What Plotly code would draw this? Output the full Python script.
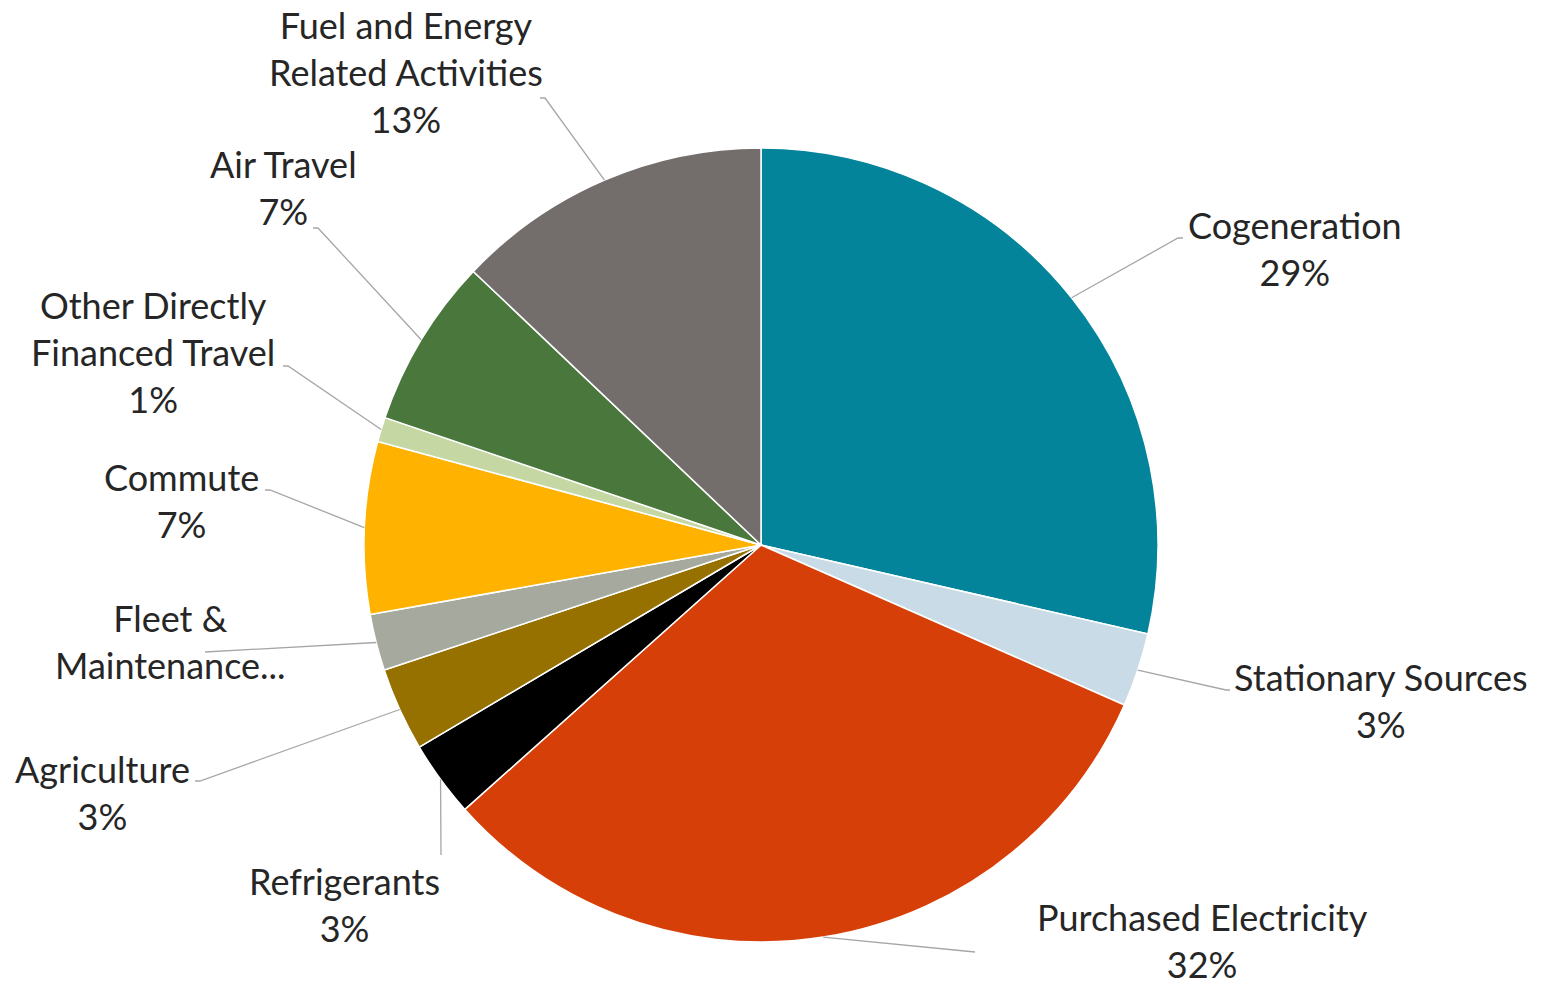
import math
import plotly.graph_objects as go

# Emission sources (share of total, %)
categories = [
    "Cogeneration", "Stationary Sources", "Purchased Electricity", "Refrigerants",
    "Agriculture", "Fleet & Maintenance", "Commute", "Other Directly Financed Travel",
    "Air Travel", "Fuel and Energy Related Activities",
]
values = [28.6, 3.0, 31.8, 3.1, 3.4, 2.3, 7.0, 1.0, 6.9, 12.9]
colors = [
    "#03849A", "#C8DBE6", "#D73F09", "#000000", "#967100",
    "#A5A99E", "#FFB300", "#C5D8A4", "#4A773C", "#736E6C",
]
# Label text (line breaks as shown); percent appended where displayed
label_names = [
    "Cogeneration", "Stationary Sources", "Purchased Electricity", "Refrigerants",
    "Agriculture", "Fleet &<br>Maintenance...", "Commute", "Other Directly<br>Financed Travel",
    "Air Travel", "Fuel and Energy<br>Related Activities",
]
show_percent = [True, True, True, True, True, False, True, True, True, True]

W, H = 1545, 987
CX, CY, R = 761, 545, 397  # pie centre and radius in pixels

# Label block centres (px) and leader-line end points (px, horizontal tick)
label_pos = [
    (1295, 249), (1381, 700), (1202, 940), (344, 904), (102, 792),
    (170, 642), (181, 500), (153, 352), (283, 187), (406, 72),
]
leader_end = [
    ((1178, 238), 5), ((1226, 690), 4), ((975, 952), 0), ((441, 855), 0), ((200, 781), -5),
    ((205, 652), 0), ((270, 490), -5), ((288, 366), -5), ((318, 228), -5), ((545, 98), -5),
]


def px(x, y):
    return x / W, (H - y) / H


fig = go.Figure(go.Pie(
    labels=categories,
    values=values,
    sort=False,
    direction="clockwise",
    rotation=0,
    marker=dict(colors=colors, line=dict(color="white", width=1.5)),
    textinfo="none",
    hoverinfo="label+percent",
    showlegend=False,
    domain=dict(x=[(CX - R) / W, (CX + R) / W], y=[(H - CY - R) / H, (H - CY + R) / H]),
))

total = sum(values)
annotations = []
shapes = []
cum = 0.0
for i, v in enumerate(values):
    mid = (cum + v / 2) / total * 2 * math.pi
    cum += v
    sx = CX + R * math.sin(mid)
    sy = CY - R * math.cos(mid)
    (ex, ey), tick = leader_end[i]
    p0 = px(sx, sy)
    p1 = px(ex, ey)
    p2 = px(ex + tick, ey)
    shapes.append(dict(
        type="path", xref="paper", yref="paper",
        path=f"M {p0[0]},{p0[1]} L {p1[0]},{p1[1]} L {p2[0]},{p2[1]}",
        line=dict(color="#A6A6A6", width=1.3),
    ))
    text = label_names[i]
    if show_percent[i]:
        text += f"<br>{round(v / total * 100)}%"
    lx, ly = px(*label_pos[i])
    annotations.append(dict(
        x=lx, y=ly, xref="paper", yref="paper", text=text, showarrow=False,
        xanchor="center", yanchor="middle", align="center",
        font=dict(family="Lato", size=36, color="#262626"),
    ))

fig.update_layout(
    width=W, height=H,
    margin=dict(l=0, r=0, t=0, b=0),
    paper_bgcolor="white", plot_bgcolor="white",
    annotations=annotations, shapes=shapes,
)

fig.write_html("out.html")
